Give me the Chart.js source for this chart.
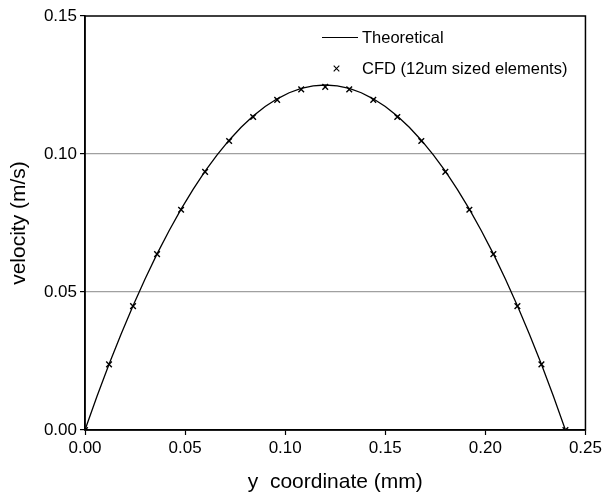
<!DOCTYPE html>
<html>
<head>
<meta charset="utf-8">
<script src="https://cdn.jsdelivr.net/npm/chart.js@4"></script>
<style>
html,body{margin:0;padding:0;background:#fff;}
#wrap{width:605px;height:495px;position:relative;}
</style>
</head>
<body>
<div id="wrap"><canvas id="c" width="605" height="495"></canvas></div>
<script>
// Theoretical profile (y coordinate in mm, velocity in m/s)
const theoryX = [0,0.006,0.012,0.018,0.024,0.030,0.036,0.042,0.048,0.054,0.060,0.066,0.072,0.078,0.084,0.090,0.096,0.102,0.108,0.114,0.120,
  0.126,0.132,0.138,0.144,0.150,0.156,0.162,0.168,0.174,0.180,0.186,0.192,0.198,0.204,0.210,0.216,0.222,0.228,0.234,0.240];
const theoryV = [0,0.0122,0.0238,0.0347,0.0450,0.0547,0.0638,0.0722,0.0800,0.0872,0.0938,0.0997,0.1050,0.1097,0.1138,0.1172,0.1200,0.1222,0.1238,0.1247,0.1250,
  0.1247,0.1238,0.1222,0.1200,0.1172,0.1138,0.1097,0.1050,0.0997,0.0938,0.0872,0.0800,0.0722,0.0638,0.0547,0.0450,0.0347,0.0238,0.0122,0];
// CFD points (12um sized elements)
const cfdX = [0,0.012,0.024,0.036,0.048,0.060,0.072,0.084,0.096,0.108,0.120,0.132,0.144,0.156,0.168,0.180,0.192,0.204,0.216,0.228,0.240];
const cfdV = [0,0.0238,0.0449,0.0637,0.0798,0.0935,0.1047,0.1134,0.1196,0.1234,0.1243,0.1234,0.1196,0.1134,0.1047,0.0935,0.0798,0.0637,0.0449,0.0238,0];
const xTicks = [0,0.05,0.10,0.15,0.20,0.25];
const yTicks = [0,0.05,0.10,0.15];
const seriesNames = ['Theoretical','CFD (12um sized elements)'];
const xTitle = 'y  coordinate (mm)';
const yTitle = 'velocity (m/s)';

const FONT = '"Liberation Sans", Arial, Helvetica, sans-serif';

const framePlugin = {
  id: 'frame',
  afterDatasetsDraw(chart) {
    const {ctx, chartArea: a} = chart;
    ctx.save();
    ctx.strokeStyle = '#000';
    ctx.lineWidth = 1.5;
    ctx.strokeRect(a.left, a.top, a.right - a.left, a.bottom - a.top);
    ctx.restore();
  }
};

const legendPlugin = {
  id: 'customLegend',
  afterDraw(chart) {
    const ctx = chart.ctx;
    ctx.save();
    ctx.font = '16.5px ' + FONT;
    ctx.fillStyle = '#000';
    ctx.textBaseline = 'middle';
    ctx.textAlign = 'left';
    // row 1: line sample
    ctx.strokeStyle = '#000';
    ctx.lineWidth = 1.2;
    ctx.beginPath();
    ctx.moveTo(322, 37.5);
    ctx.lineTo(358, 37.5);
    ctx.stroke();
    ctx.fillText(chart.data.datasets[0].label, 362, 38);
    // row 2: cross marker
    const mx = 336.5, my = 68.5, r = 2.8;
    ctx.lineWidth = 1.1;
    ctx.beginPath();
    ctx.moveTo(mx - r, my - r); ctx.lineTo(mx + r, my + r);
    ctx.moveTo(mx - r, my + r); ctx.lineTo(mx + r, my - r);
    ctx.stroke();
    ctx.fillText(chart.data.datasets[1].label, 362, 69);
    ctx.restore();
  }
};

new Chart(document.getElementById('c'), {
  type: 'scatter',
  data: {
    datasets: [
      {
        label: seriesNames[0],
        data: theoryX.map((x, i) => ({x: x, y: theoryV[i]})),
        showLine: true,
        borderColor: '#000',
        borderWidth: 1.3,
        pointRadius: 0,
        tension: 0,
        order: 2
      },
      {
        label: seriesNames[1],
        data: cfdX.map((x, i) => ({x: x, y: cfdV[i]})),
        showLine: false,
        pointStyle: 'crossRot',
        pointRadius: 4,
        borderColor: '#000',
        borderWidth: 1.4,
        backgroundColor: '#000',
        order: 1
      }
    ]
  },
  options: {
    responsive: false,
    animation: false,
    devicePixelRatio: 1,
    layout: { padding: { left: 0, right: 19, top: 16, bottom: 0 } },
    plugins: { legend: { display: false }, tooltip: { enabled: false } },
    scales: {
      x: {
        type: 'linear',
        min: 0, max: 0.25,
        afterBuildTicks(scale) { scale.ticks = xTicks.map(v => ({value: v})); },
        afterFit(scale) { scale.height = 65; },
        ticks: {
          color: '#000',
          font: { family: FONT, size: 17 },
          padding: 3,
          maxRotation: 0,
          callback: v => v.toFixed(2)
        },
        grid: { drawOnChartArea: false, tickLength: 5, tickColor: '#000', tickWidth: 1.2 },
        border: { color: '#000', width: 1.5 },
        title: { display: true, text: xTitle, color: '#000', font: { family: FONT, size: 21 }, padding: { top: 4, bottom: 0 } }
      },
      y: {
        type: 'linear',
        min: 0, max: 0.15,
        afterBuildTicks(scale) { scale.ticks = yTicks.map(v => ({value: v})); },
        afterFit(scale) { scale.width = 85; },
        ticks: {
          color: '#000',
          font: { family: FONT, size: 17 },
          padding: 3,
          callback: v => v.toFixed(2)
        },
        grid: {
          color: ctx => (ctx.tick && (ctx.tick.value === 0.05 || ctx.tick.value === 0.10)) ? '#a0a0a0' : 'rgba(0,0,0,0)',
          lineWidth: 1.2,
          tickLength: 5,
          tickColor: '#000',
          tickWidth: 1.2
        },
        border: { color: '#000', width: 1.5 },
        title: { display: true, text: yTitle, color: '#000', font: { family: FONT, size: 21 }, padding: { top: 7, bottom: 0 } }
      }
    }
  },
  plugins: [framePlugin, legendPlugin]
});
</script>
</body>
</html>
